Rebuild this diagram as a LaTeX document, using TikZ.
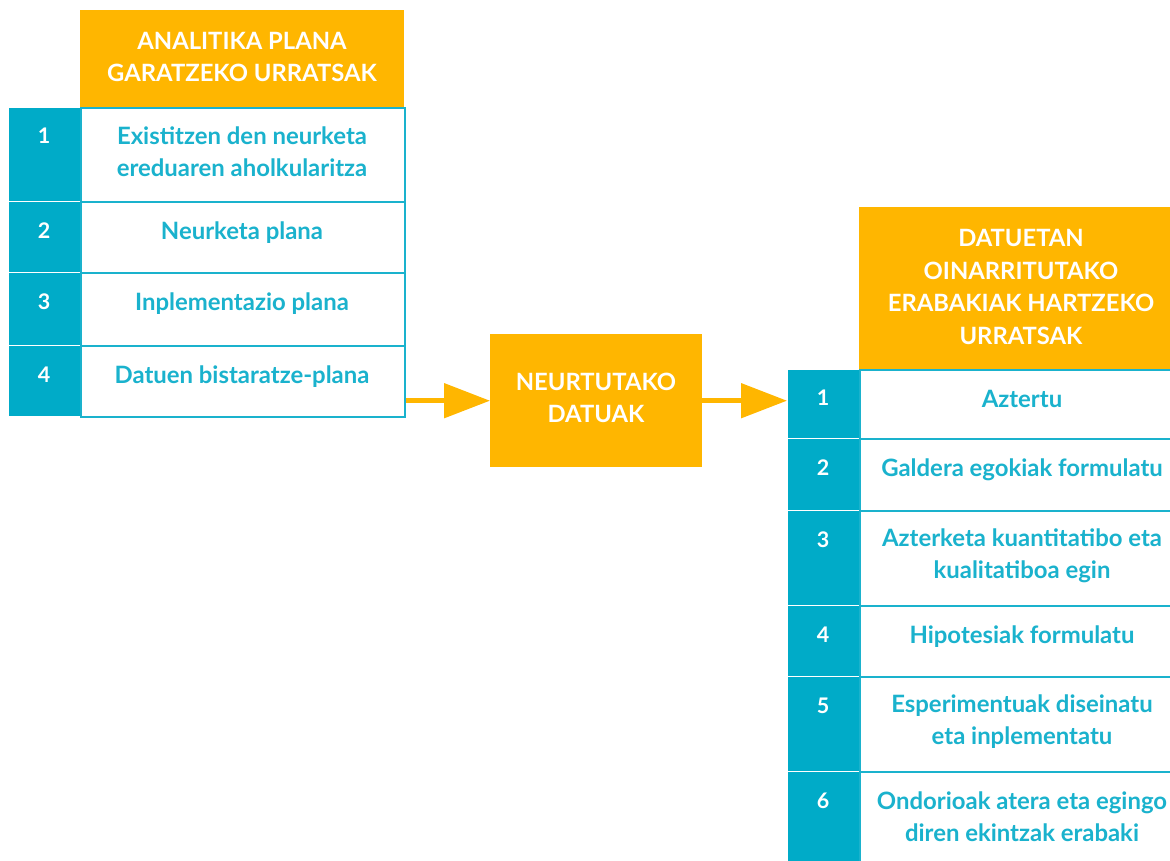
\documentclass[tikz,border=0pt]{standalone}
\usepackage{fontspec}
\setmainfont{Lato}
\usetikzlibrary{arrows.meta}
\definecolor{orangeA}{HTML}{FFB600}
\definecolor{tealA}{HTML}{00ABC8}
\definecolor{tealT}{HTML}{1AB2CD}
\tikzset{
  hdr/.style={fill=orangeA, draw=none, inner sep=0pt, anchor=north west},
  hdrtext/.style={text=white, font=\bfseries\fontsize{23.8}{32.5}\selectfont, align=center, inner sep=0pt},
  numbox/.style={fill=tealA, draw=white, line width=1.2pt, inner sep=0pt, anchor=north west},
  numtext/.style={text=white, font=\bfseries\fontsize{21.5}{30}\selectfont, inner sep=0pt},
  cellbox/.style={fill=white, draw=tealT, line width=1.8pt, inner sep=0pt, anchor=north west},
  celltext/.style={text=tealT, font=\bfseries\fontsize{23.9}{32}\selectfont, align=center, inner sep=0pt},
  flow/.style={draw=orangeA, line width=5pt, -{Triangle[length=46pt,width=34pt]}, shorten >=0pt}
}
\begin{document}
\begin{tikzpicture}[x=1pt,y=-1pt]
\useasboundingbox (0,0) rectangle (1170,860);
% ---------- left table ----------
\node[hdr, minimum width=324pt, minimum height=97pt] (lh) at (80,10) {};
\node[hdrtext] at (242,57) {ANALITIKA PLANA\\GARATZEKO URRATSAK};
\foreach \i/\ya/\yb/\t/\ty in {1/107/201/{Existitzen den neurketa\\ereduaren aholkularitza}/152,
                            2/201/272/{Neurketa plana}/233,
                            3/272/345/{Inplementazio plana}/304,
                            4/345/416/{Datuen bistaratze-plana}/377}{
  \pgfmathsetmacro{\h}{\yb-\ya}
  \node[numbox, minimum width=72pt, minimum height=\h pt] (ln\i) at (8,\ya) {};
  \node[cellbox, minimum width=324pt, minimum height=\h pt] (lc\i) at (80,\ya) {};
  \node[celltext] (lt\i) at (242,\ty) {\t};
}
\node[numtext] at (44,136) {1};
\node[numtext] at (44,231) {2};
\node[numtext] at (44,302) {3};
\node[numtext] at (44,375) {4};
% ---------- middle box ----------
\node[hdr, minimum width=212pt, minimum height=133pt] (md) at (490,334) {};
\node[hdrtext] at (596,398) {NEURTUTAKO\\DATUAK};
% ---------- right table ----------
\node[hdr, minimum width=330pt, minimum height=162pt] (rh) at (859,207) {};
\node[hdrtext] at (1021,287) {DATUETAN\\OINARRITUTAKO\\ERABAKIAK HARTZEKO\\URRATSAK};
\foreach \i/\ya/\yb/\t/\ty in {1/369/438/{Aztertu}/399,
                            2/438/510/{Galdera egokiak formulatu}/470,
                            3/510/605/{Azterketa kuantitatibo eta\\kualitatiboa egin}/556,
                            4/605/676/{Hipotesiak formulatu}/637,
                            5/676/771/{Esperimentuak diseinatu\\eta inplementatu}/722,
                            6/771/868/{Ondorioak atera eta egingo\\diren ekintzak erabaki}/817}{
  \pgfmathsetmacro{\h}{\yb-\ya}
  \node[numbox, minimum width=72pt, minimum height=\h pt] (rn\i) at (787,\ya) {};
  \node[cellbox, minimum width=327pt, minimum height=\h pt] (rc\i) at (859,\ya) {};
  \node[celltext] (rt\i) at (1022,\ty) {\t};
}
\node[numtext] at (823,398) {1};
\node[numtext] at (823,468) {2};
\node[numtext] at (823,540) {3};
\node[numtext] at (823,635) {4};
\node[numtext] at (823,706) {5};
\node[numtext] at (823,801) {6};
% ---------- arrows ----------
\draw[flow] (lc4.east |- md.west) -- (md.west);
\draw[flow] (md.east) -- (md.east -| rn1.west);
\end{tikzpicture}
\end{document}
